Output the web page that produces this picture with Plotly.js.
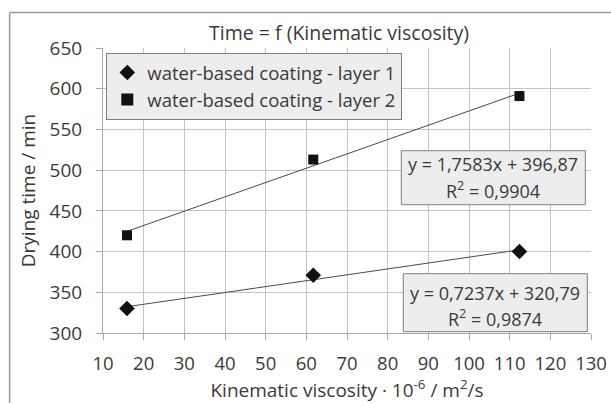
<!DOCTYPE html>
<html>
<head>
<meta charset="utf-8">
<script src="https://cdn.plot.ly/plotly-3.0.1.min.js"></script>
<style>html,body{margin:0;padding:0;background:#fff;overflow:hidden;}#chart{width:611px;height:403px;overflow:hidden;}</style>
</head>
<body>
<div id="chart"></div>
<script>
// Data
const viscosity = [15.9, 61.7, 112.4];
const layer1Time = [330, 371, 400];
const layer2Time = [420, 513, 591];
const seriesNames = ['water-based coating - layer 1', 'water-based coating - layer 2'];
// Trendline equations shown on the chart
const trendSlope = [0.7237, 1.7583];
const trendIntercept = [320.79, 396.87];
const trendEquations = ['y = 0,7237x + 320,79', 'y = 1,7583x + 396,87'];
const trendR2 = ['R<sup>2</sup> = 0,9874', 'R<sup>2</sup> = 0,9904'];
const xTicks = [10, 20, 30, 40, 50, 60, 70, 80, 90, 100, 110, 120, 130];
const yTicks = [300, 350, 400, 450, 500, 550, 600, 650];

const FONT = 'Open Sans, sans-serif';
const TXT = '#3a3a3a';

function trendY(i, x) { return trendSlope[i] * x + trendIntercept[i]; }
const xEnds = [viscosity[0], viscosity[viscosity.length - 1]];

const traces = [
  {x: xEnds, y: xEnds.map(x => trendY(1, x)), mode: 'lines', line: {color: '#4a4a4a', width: 1}, showlegend: false, hoverinfo: 'skip'},
  {x: xEnds, y: xEnds.map(x => trendY(0, x)), mode: 'lines', line: {color: '#4a4a4a', width: 1}, showlegend: false, hoverinfo: 'skip'},
  {x: viscosity, y: layer1Time, name: seriesNames[0], mode: 'markers', marker: {symbol: 'diamond', size: 12, color: '#111'}},
  {x: viscosity, y: layer2Time, name: seriesNames[1], mode: 'markers', marker: {symbol: 'square', size: 10, color: '#111'}}
];

const L = 102.7, T = 48.3, W = 488, H = 285; // plot area px
const px = v => (v - L) / W;
const py = v => (T + H - v) / H;

// label boxes in px: [x0, x1, y0, y1, line1 y, line2 y]
const boxes = [
  [401, 585, 151, 205, 164.5, 190.5],
  [403, 587, 274, 332, 293, 318]
];
const boxOrder = [1, 0];

const shapes = [
  {type: 'line', xref: 'paper', yref: 'paper', x0: px(9.3), x1: px(640), y0: py(12.7), y1: py(12.7), line: {color: '#9a9a9a', width: 1.5}},
  {type: 'line', xref: 'paper', yref: 'paper', x0: px(9.3), x1: px(9.3), y0: py(12.7), y1: py(440), line: {color: '#9a9a9a', width: 1.5}}
];
const annotations = [];
boxes.forEach((b, k) => {
  const i = boxOrder[k];
  shapes.push({type: 'rect', xref: 'paper', yref: 'paper', x0: px(b[0]), x1: px(b[1]), y0: py(b[3]), y1: py(b[2]),
    line: {color: '#7f7f7f', width: 1}, fillcolor: '#ededed', layer: 'above'});
  const cx = px((b[0] + b[1]) / 2);
  annotations.push({xref: 'paper', yref: 'paper', x: cx, y: py(b[4]), xanchor: 'center', yanchor: 'middle',
    text: trendEquations[i], showarrow: false, font: {family: FONT, size: 18, color: TXT}});
  annotations.push({xref: 'paper', yref: 'paper', x: cx, y: py(b[5]), xanchor: 'center', yanchor: 'middle',
    text: trendR2[i], showarrow: false, font: {family: FONT, size: 18, color: TXT}});
});

const layout = {
  width: 611, height: 403,
  margin: {l: 103, r: 20, t: 48, b: 70},
  paper_bgcolor: '#fff', plot_bgcolor: '#fff',
  font: {family: FONT, color: TXT, size: 18},
  title: {text: 'Time = f (Kinematic viscosity)', font: {family: FONT, size: 19.5, color: TXT}, x: 0.555, xanchor: 'center', y: 0.918, yanchor: 'middle'},
  showlegend: true,
  legend: {x: px(106), y: py(53.3), xanchor: 'left', yanchor: 'top',
    bgcolor: '#ededed', bordercolor: '#7f7f7f', borderwidth: 1,
    font: {family: FONT, size: 18.5, color: TXT}, tracegroupgap: 0, itemsizing: 'constant'},
  xaxis: {
    range: [10, 130], tickvals: xTicks, ticktext: xTicks.map(String),
    showgrid: true, gridcolor: '#c4c4c4', gridwidth: 1,
    showline: true, linecolor: '#a8a8a8', linewidth: 1,
    ticks: 'outside', ticklen: 6, tickcolor: '#a8a8a8',
    zeroline: false, ticklabelstandoff: 8,
    tickfont: {family: FONT, size: 18.5, color: TXT},
    title: {text: 'Kinematic viscosity · 10<sup>-6</sup> / m<sup>2</sup>/s', font: {family: FONT, size: 19, color: TXT}, standoff: 10}
  },
  yaxis: {
    range: [300, 650], tickvals: yTicks, ticktext: yTicks.map(String),
    showgrid: true, gridcolor: '#c4c4c4', gridwidth: 1,
    showline: true, linecolor: '#a8a8a8', linewidth: 1,
    ticks: 'outside', ticklen: 6, tickcolor: '#a8a8a8',
    zeroline: false, ticklabelstandoff: 10,
    tickfont: {family: FONT, size: 19, color: TXT},
    title: {text: 'Drying time / min', font: {family: FONT, size: 19, color: TXT}, standoff: 8}
  },
  shapes: shapes,
  annotations: annotations
};

Plotly.newPlot('chart', traces, layout, {staticPlot: true, displayModeBar: false});
</script>
</body>
</html>
